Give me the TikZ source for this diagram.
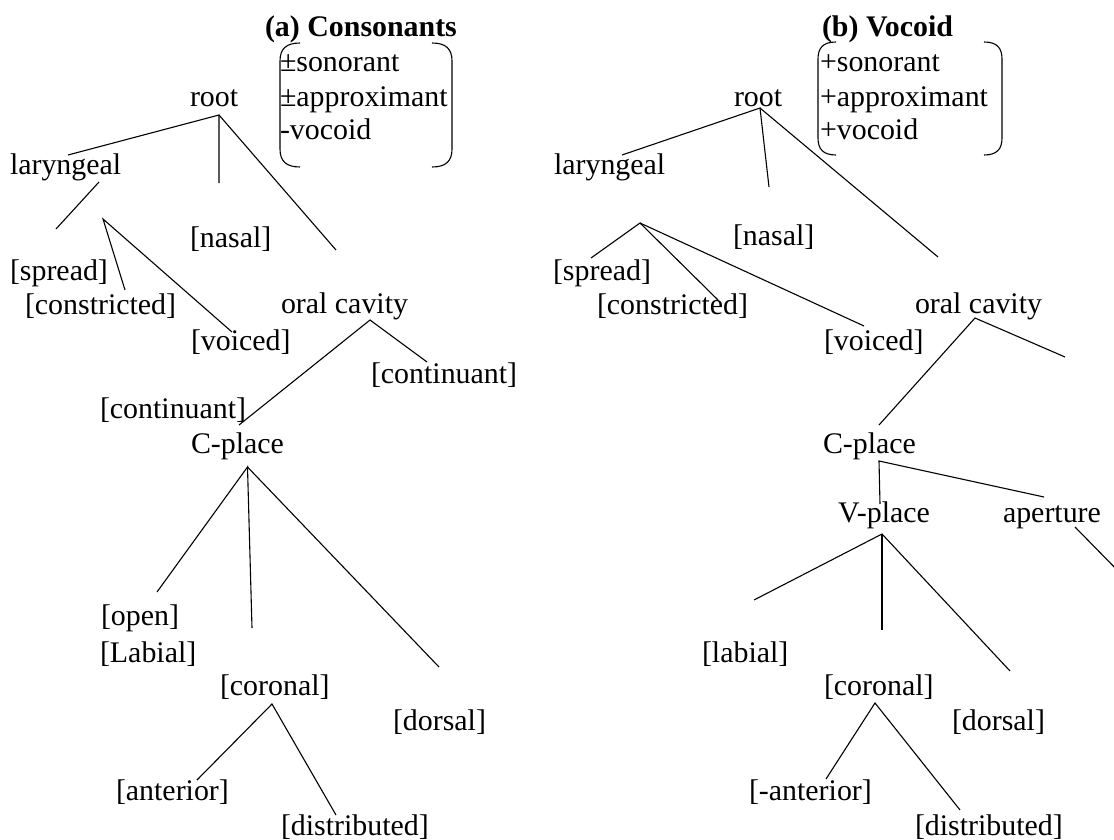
\documentclass[tikz,border=0pt]{standalone}
\usepackage{fontspec}
\setmainfont{Liberation Serif}
\tikzset{
  feat/.style={anchor=base west, inner sep=0pt, outer sep=0pt,
               font=\fontsize{29.9}{34}\selectfont},
  ttl/.style={feat, font=\fontsize{29.9}{34}\selectfont\bfseries},
  branch/.style={line width=1.1pt},
  trunk/.style={line width=2.4pt},
  brace/.style={line width=1.1pt}
}
\begin{document}
\begin{tikzpicture}[x=1pt, y=-1pt]
\useasboundingbox (0,0) rectangle (1114,840);

% ---------------- (a) Consonants ----------------
\node[ttl]  (aTitle) at (265,37)  {(a) Consonants};
\node[feat] (aSon)   at (280,72)  {±sonorant};
\node[feat] (aApp)   at (280,107) {±approximant};
\node[feat] (aVoc)   at (280,140) {-vocoid};
\draw[brace] (300,43) .. controls (286,43) and (280,49) .. (280,61) -- (280,149)
             .. controls (280,161) and (286,167) .. (300,167);
\draw[brace] (432,43) .. controls (446,43) and (452,49) .. (452,61) -- (452,149)
             .. controls (452,161) and (446,167) .. (432,167);

\node[feat] (aRoot)   at (190,107)   {root};
\node[feat] (aLar)    at (10,175)    {laryngeal};
\node[feat] (aNasal)  at (190,247.5) {[nasal]};
\node[feat] (aSpread) at (10,280.5)  {[spread]};
\node[feat] (aConstr) at (25,314.5)  {[constricted]};
\node[feat] (aVoiced) at (191,350.5) {[voiced]};
\node[feat] (aOral)   at (281,313)   {oral cavity};
\node[feat] (aContR)  at (371,383.5) {[continuant]};
\node[feat] (aContL)  at (100,418.5) {[continuant]};
\node[feat] (aCplace) at (191,453)   {C-place};
\node[feat] (aOpen)   at (101,625.5) {[open]};
\node[feat] (aLabial) at (100,662.5) {[Labial]};
\node[feat] (aCor)    at (220,695.5) {[coronal]};
\node[feat] (aDors)   at (393,730.5) {[dorsal]};
\node[feat] (aAnt)    at (116,800.5) {[anterior]};
\node[feat] (aDist)   at (281,835.5) {[distributed]};

% junctions and branch ends
\coordinate (aRootJ) at (219,115);
\coordinate (aRootL) at (68,155);
\coordinate (aRootM) at (219,183);
\coordinate (aRootR) at (336,250);
\coordinate (aLarA)  at (99,182);
\coordinate (aLarB)  at (56,229);
\coordinate (aFanJ)  at (103,219);
\coordinate (aFanC)  at (125,290);
\coordinate (aFanV)  at (232,332);
\coordinate (aOralJ) at (370,320);
\coordinate (aOralL) at (239,425);
\coordinate (aOralR) at (427,362);
\coordinate (aCpJ)   at (247.5,467);
\coordinate (aCpL)   at (157,592);
\coordinate (aCpM)   at (252,628);
\coordinate (aCpR)   at (439,667);
\coordinate (aCorJ)  at (272,704);
\coordinate (aCorL)  at (197,780);
\coordinate (aCorR)  at (336,815);

\draw[branch] (aRootL) -- (aRootJ) -- (aRootM);
\draw[branch] (aRootJ) -- (aRootR);
\draw[branch] (aLarA) -- (aLarB);
\draw[branch] (aFanC) -- (aFanJ) -- (aFanV);
\draw[branch] (aOralL) -- (aOralJ) -- (aOralR);
\draw[branch] (aCpL) -- (aCpJ) -- (aCpM);
\draw[branch] (aCpJ) -- (aCpR);
\draw[branch] (aCorL) -- (aCorJ) -- (aCorR);

% ---------------- (b) Vocoid ----------------
\node[ttl]  (bTitle) at (822,37)  {(b) Vocoid};
\node[feat] (bSon)   at (820,72)  {+sonorant};
\node[feat] (bApp)   at (820,107) {+approximant};
\node[feat] (bVoc)   at (820,140) {+vocoid};
\draw[brace] (836,42) .. controls (823,42) and (818,48) .. (818,59) -- (818,138)
             .. controls (818,149) and (823,155) .. (836,155);
\draw[brace] (984,42) .. controls (997,42) and (1002,48) .. (1002,59) -- (1002,138)
             .. controls (1002,149) and (997,155) .. (984,155);

\node[feat] (bRoot)   at (734,107)   {root};
\node[feat] (bLar)    at (554,175)   {laryngeal};
\node[feat] (bNasal)  at (733,245.5) {[nasal]};
\node[feat] (bSpread) at (553,280.5) {[spread]};
\node[feat] (bConstr) at (597,314.5) {[constricted]};
\node[feat] (bVoiced) at (824,350.5) {[voiced]};
\node[feat] (bOral)   at (915,313)   {oral cavity};
\node[feat] (bCplace) at (823,453)   {C-place};
\node[feat] (bVplace) at (838,522)   {V-place};
\node[feat] (bApert)  at (1003,522)  {aperture};
\node[feat] (bLabial) at (702,662.5) {[labial]};
\node[feat] (bCor)    at (824,695.5) {[coronal]};
\node[feat] (bDors)   at (952,730.5) {[dorsal]};
\node[feat] (bAnt)    at (749,800.5) {[-anterior]};
\node[feat] (bDist)   at (915,835.5) {[distributed]};

\coordinate (bRootJ) at (760,108);
\coordinate (bRootL) at (622,155);
\coordinate (bRootM) at (769,187);
\coordinate (bRootR) at (938,257);
\coordinate (bFanJ)  at (640,223);
\coordinate (bFanS)  at (591,258);
\coordinate (bFanC)  at (718,300);
\coordinate (bFanV)  at (864,326);
\coordinate (bOralJ) at (975,318);
\coordinate (bOralL) at (879,425);
\coordinate (bOralR) at (1065,357);
\coordinate (bCpJ)   at (879,461);
\coordinate (bCpV)   at (880,504);
\coordinate (bCpA)   at (1044,497);
\coordinate (bVpJ)   at (882,534);
\coordinate (bVpL)   at (754,600);
\coordinate (bVpM)   at (882,630);
\coordinate (bVpR)   at (1010,671);
\coordinate (bApJ)   at (1075,527);
\coordinate (bApE)   at (1124,577);
\coordinate (bCorJ)  at (875,703);
\coordinate (bCorL)  at (826,779);
\coordinate (bCorR)  at (960,810);

\draw[branch] (bRootL) -- (bRootJ) -- (bRootM);
\draw[branch] (bRootJ) -- (bRootR);
\draw[branch] (bFanS) -- (bFanJ) -- (bFanC);
\draw[branch] (bFanJ) -- (bFanV);
\draw[branch] (bOralL) -- (bOralJ) -- (bOralR);
\draw[branch] (bCpV) -- (bCpJ) -- (bCpA);
\draw[branch] (bVpL) -- (bVpJ) -- (bVpR);
\draw[trunk]  (bVpJ) -- (bVpM);
\draw[branch] (bApJ) -- (bApE);
\draw[branch] (bCorL) -- (bCorJ) -- (bCorR);
\end{tikzpicture}
\end{document}
